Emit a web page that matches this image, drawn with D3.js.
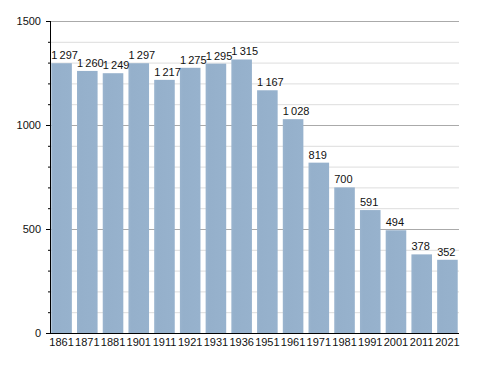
<!DOCTYPE html>
<html>
<head>
<meta charset="utf-8">
<script src="https://cdn.jsdelivr.net/npm/d3@7"></script>
<style>
  body { margin: 0; background: #fff; }
  text { font-family: "Liberation Sans", Arial, sans-serif; }
</style>
</head>
<body>
<div id="chart"></div>
<script>
const years = ["1861", "1871", "1881", "1901", "1911", "1921", "1931", "1936",
  "1951", "1961", "1971", "1981", "1991", "2001", "2011", "2021"];
const population = [1297, 1260, 1249, 1297, 1217, 1275, 1295, 1315,
  1167, 1028, 819, 700, 591, 494, 378, 352];
const majorTicks = [0, 500, 1000, 1500];
const minorTicks = d3.range(0, 1501, 100);

const svg = d3.select("#chart")
  .append("svg")
  .attr("width", 488)
  .attr("height", 373);

const x = d3.scaleBand()
  .domain(years)
  .range([50, 459])
  .paddingInner(0.2)
  .paddingOuter(0.05);

const y = d3.scaleLinear()
  .domain([0, 1500])
  .range([333, 21]);

const grad = svg.append("defs").append("linearGradient")
  .attr("id", "barfill")
  .attr("x1", "0%").attr("x2", "100%");
grad.append("stop").attr("offset", "0%").attr("stop-color", "#9ab4ce");
grad.append("stop").attr("offset", "15%").attr("stop-color", "#95b0cb");
grad.append("stop").attr("offset", "100%").attr("stop-color", "#97b2cd");

// grid lines
svg.append("g")
  .selectAll("line")
  .data(minorTicks.filter(d => d % 500 !== 0))
  .join("line")
  .attr("x1", 50).attr("x2", 459)
  .attr("y1", d => y(d) + 0.5).attr("y2", d => y(d) + 0.5)
  .attr("stroke", "#dddddd");

svg.append("g")
  .selectAll("line")
  .data(majorTicks.filter(d => d > 0))
  .join("line")
  .attr("x1", 50).attr("x2", 459)
  .attr("y1", d => y(d) + 0.5).attr("y2", d => y(d) + 0.5)
  .attr("stroke", "#aaaaaa");

// bars
svg.append("g")
  .selectAll("rect")
  .data(population)
  .join("rect")
  .attr("x", (d, i) => x(years[i]))
  .attr("y", d => y(d))
  .attr("width", x.bandwidth())
  .attr("height", d => y(0) - y(d))
  .attr("fill", "url(#barfill)");

// value labels, left aligned with the bar
const fmt = v => v >= 1000 ? d3.format(",")(v).replace(",", "\u2009") : String(v);
svg.append("g")
  .selectAll("text")
  .data(population)
  .join("text")
  .attr("x", (d, i) => x(years[i]))
  .attr("y", d => y(d) - 4)
  .attr("font-size", 11)
  .attr("fill", "#111")
  .text(fmt);

// y axis
const yMinor = svg.append("g")
  .attr("transform", "translate(50,0)")
  .call(d3.axisLeft(y).tickValues(minorTicks).tickSize(2).tickFormat(""));
yMinor.select(".domain").remove();

const yAxis = svg.append("g")
  .attr("transform", "translate(50,0)")
  .call(d3.axisLeft(y).tickValues(majorTicks).tickSize(4).tickPadding(5).tickFormat(d3.format("d")));
yAxis.select(".domain").attr("d", `M0.5,${y(1500)}V${y(0) + 0.5}`);
yAxis.selectAll("text").attr("font-size", 11).attr("fill", "#111").style("font-family", "Liberation Sans, Arial, sans-serif");

// x axis
const xAxis = svg.append("g")
  .attr("transform", `translate(0,${y(0)})`)
  .call(d3.axisBottom(x).tickSize(0).tickPadding(5));
xAxis.select(".domain").attr("d", `M50,0.5H459`);
xAxis.selectAll("text").attr("font-size", 11).attr("fill", "#111").style("font-family", "Liberation Sans, Arial, sans-serif");
</script>
</body>
</html>
